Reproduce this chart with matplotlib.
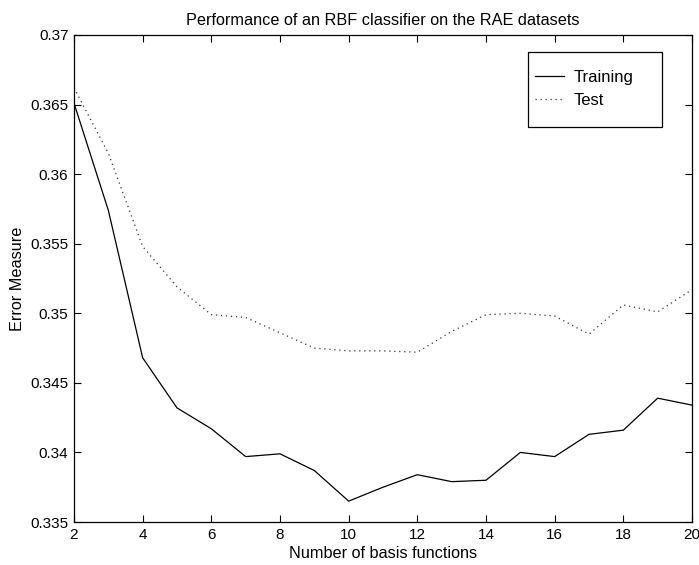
import numpy as np
import matplotlib.pyplot as plt
from matplotlib.patches import Rectangle
from matplotlib.ticker import FuncFormatter

plt.rcParams['font.family'] = ['Liberation Sans', 'DejaVu Sans']

# Error measure vs. number of RBF basis functions
n_basis = [2, 3, 4, 5, 6, 7, 8, 9, 10, 11, 12, 13, 14, 15, 16, 17, 18, 19, 20]
train_err = [0.3651, 0.3574, 0.3468, 0.3432, 0.3417, 0.3397, 0.3399, 0.3387, 0.3365, 0.3375,
             0.3384, 0.3379, 0.3380, 0.3400, 0.3397, 0.3413, 0.3416, 0.3439, 0.3434]
test_err = [0.3662, 0.3615, 0.3548, 0.3519, 0.3499, 0.3497, 0.3486, 0.3475, 0.3473, 0.3473,
            0.3472, 0.3487, 0.3499, 0.3500, 0.3498, 0.3485, 0.3506, 0.3501, 0.3517]

W, H = 699, 565
fig = plt.figure(figsize=(W / 100, H / 100), dpi=100)
ax = fig.add_axes([74 / W, 1 - 522 / H, 618 / W, 487 / H])

ax.plot(n_basis, train_err, color='black', lw=0.9, label='Training')
ax.plot(n_basis, test_err, color='#333333', lw=0.9, linestyle=(0, (1, 3)), label='Test')

ax.set_xlim(2, 20)
ax.set_ylim(0.335, 0.37)
ax.set_xticks(np.arange(2, 21, 2))
ax.set_yticks(np.arange(0.335, 0.3701, 0.005))
ax.yaxis.set_major_formatter(FuncFormatter(lambda v, p: f'{v:g}'))
ax.tick_params(direction='in', top=True, right=True, length=5, width=0.8,
               labelsize=11, pad=4)
for s in ax.spines.values():
    s.set_linewidth(0.9)

ax.set_xlabel('Number of basis functions', fontsize=11.7, labelpad=3)
ax.set_ylabel('Error Measure', fontsize=11.7, labelpad=4)
ax.set_title('Performance of an RBF classifier on the RAE datasets', fontsize=11.7, pad=7)

# legend entries without frame, box drawn separately (MATLAB-style wide box)
leg = ax.legend(loc='upper left', bbox_to_anchor=(535 / W, 1 - 70 / H),
                bbox_transform=fig.transFigure, fontsize=12, frameon=False,
                handlelength=1.75, handletextpad=0.55, borderpad=0, borderaxespad=0,
                labelspacing=0.5)
leg.set_zorder(5)
box = Rectangle((528 / W, 1 - 127 / H), 134 / W, 75 / H, transform=fig.transFigure,
                facecolor='white', edgecolor='black', lw=0.9, zorder=4, clip_on=False)
ax.add_patch(box)

fig.savefig('out.png', dpi=100)
